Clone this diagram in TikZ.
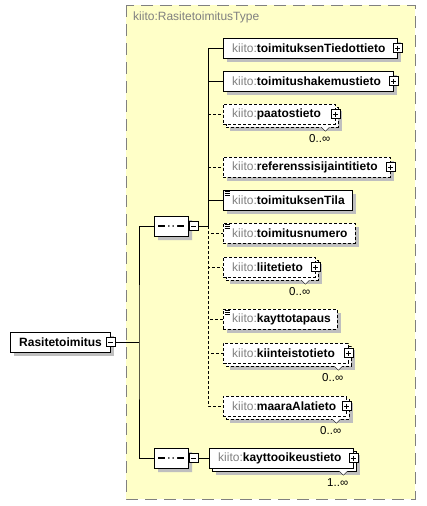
\documentclass[tikz,border=0pt]{standalone}
\usepackage{fontspec}
\setmainfont{Liberation Sans}
\usetikzlibrary{shapes.misc}

\definecolor{typefill}{HTML}{FFFFC8}
\definecolor{prefix}{HTML}{808080}
\colorlet{shadegray}{black!25}
\newcommand{\kiito}{\textcolor{prefix}{\mdseries kiito:}}
\hyphenpenalty=10000

\pgfdeclarelayer{back}
\pgfdeclarelayer{shadow}
\pgfsetlayers{back,shadow,main}

\tikzset{
  elem/.style={draw, fill=white, anchor=west, minimum height=20pt, inner xsep=9pt, inner ysep=0pt,
    text width=#1pt, align=left, font=\bfseries\fontsize{12}{14}\selectfont},
  opt/.style={dash pattern=on 3pt off 2pt},
  many/.style={preaction={draw=black, fill=white, transform canvas={shift={(3pt,-3pt)}}, #1}},
  many/.default={solid},
  simple/.style={path picture={
    \draw[solid, line width=.7pt] ([shift={(1.5pt,-1.5pt)}]path picture bounding box.north west) -- ++(5pt,0pt)
      ++(-5pt,-2pt) -- ++(5pt,0pt) ++(-5pt,-2pt) -- ++(5pt,0pt);}},
  minus/.style={draw, solid, fill=white, minimum size=9pt, inner sep=0pt,
    path picture={\draw[line width=.8pt] ([xshift=2pt]path picture bounding box.west)
      -- ([xshift=-2pt]path picture bounding box.east);}},
  plus/.style={draw, solid, fill=white, minimum size=9pt, inner sep=0pt,
    path picture={\draw[line width=.8pt] ([xshift=2pt]path picture bounding box.west)
      -- ([xshift=-2pt]path picture bounding box.east)
      ([yshift=-2pt]path picture bounding box.north) -- ([yshift=2pt]path picture bounding box.south);}},
  octa/.style={chamfered rectangle, chamfered rectangle xsep=6pt, minimum width=34pt, minimum height=20pt, inner sep=0pt},
  seq/.style={octa, draw, fill=white,
    path picture={
      \draw[line width=1.2pt] ([xshift=-13pt]path picture bounding box.center) -- ([xshift=13pt]path picture bounding box.center);
      \fill ([shift={(-6pt,1.7pt)}]path picture bounding box.center) rectangle ++(3.4pt,-3.4pt)
            ([shift={(-1.7pt,1.7pt)}]path picture bounding box.center) rectangle ++(3.4pt,-3.4pt)
            ([shift={(2.6pt,1.7pt)}]path picture bounding box.center) rectangle ++(3.4pt,-3.4pt);}},
  mult/.style={anchor=north east, inner sep=0pt, font=\fontsize{11.5}{13}\selectfont}
}

\begin{document}
\begin{tikzpicture}[x=1pt, y=-1pt, line width=1pt]
\useasboundingbox (0,0) rectangle (426,506);
% complex type
\begin{pgfonlayer}{back}
\draw[fill=typefill, draw=prefix, dash pattern=on 12pt off 7pt] (126,5) rectangle (415,499);
\end{pgfonlayer}
\node[anchor=west, inner sep=0pt, text=prefix, font=\fontsize{12}{14}\selectfont] (tname) at (133,17) {kiito:RasitetoimitusType};

% root element
\node[elem=82] (ra) at (10,342) {Rasitetoimitus};
\node[minus] (ram) at (ra.east) {};
\coordinate (j1) at (139,342);

% sequences
\node[seq] (s1) at (171,226) {};
\node[minus, anchor=west] (s1m) at ([xshift=1pt]s1.east) {};
\node[seq] (s2) at (171,458) {};
\node[minus, anchor=west] (s2m) at ([xshift=1pt]s2.east) {};
\coordinate (j2) at (208,226);

% children of the first sequence
\node[elem=156] (c1) at (223,48) {\kiito toimituksenTiedottieto};
\node[plus] (c1p) at (c1.east) {};
\node[elem=152] (c2) at (223,81) {\kiito toimitushakemustieto};
\node[plus] (c2p) at (c2.east) {};
\node[elem=94, opt, many=opt] (c3) at (223,114) {\kiito paatostieto};
\node[plus] (c3p) at (c3.east) {};
\node[elem=149, opt] (c4) at (223,167) {\kiito referenssisijaintitieto};
\node[plus] (c4p) at (c4.east) {};
\node[elem=111, simple] (c5) at (223,200) {\kiito toimituksenTila};
\node[elem=114, opt, simple] (c6) at (223,233) {\kiito toimitusnumero};
\node[elem=74, opt, many=opt] (c7) at (223,267) {\kiito liitetieto};
\node[plus] (c7p) at (c7.east) {};
\node[elem=96, opt, simple] (c8) at (223,319) {\kiito kayttotapaus};
\node[elem=107, opt, many=opt] (c9) at (223,353) {\kiito kiinteistotieto};
\node[plus] (c9p) at (c9.east) {};
\node[elem=105, opt, many=opt] (c10) at (223,406) {\kiito maaraAlatieto};
\node[plus] (c10p) at (c10.east) {};

% child of the second sequence
\node[elem=126, many] (c11) at (209,458) {\kiito kayttooikeustieto};
\node[plus] (c11p) at (c11.east) {};

% shadows
\begin{pgfonlayer}{shadow}
\foreach \n in {ra,c1,c2,c4,c5,c6,c8}
  \fill[shadegray] ([xshift=4pt,yshift=-4pt]\n.north west) rectangle ([xshift=4pt,yshift=-4pt]\n.south east);
\foreach \n in {c3,c7,c9,c10,c11}
  \fill[shadegray] ([xshift=7pt,yshift=-7pt]\n.north west) rectangle ([xshift=7pt,yshift=-7pt]\n.south east);
\node[octa, fill=shadegray] (s1s) at ([xshift=4pt,yshift=-4pt]s1.center) {};
\node[octa, fill=shadegray] (s2s) at ([xshift=4pt,yshift=-4pt]s2.center) {};
\end{pgfonlayer}

% occurrence marks
\draw[fill=white] ([shift={(-14pt,-3pt)}]c3.south east) -- ++(4,4) -- ++(4,-4);
\node[mult] (m3) at ([shift={(-5pt,-10pt)}]c3.south east) {0..∞};
\draw[fill=white] ([shift={(-14pt,-3pt)}]c7.south east) -- ++(4,4) -- ++(4,-4);
\node[mult] (m7) at ([shift={(-5pt,-10pt)}]c7.south east) {0..∞};
\draw[fill=white] ([shift={(-14pt,-3pt)}]c9.south east) -- ++(4,4) -- ++(4,-4);
\node[mult] (m9) at ([shift={(-5pt,-10pt)}]c9.south east) {0..∞};
\draw[fill=white] ([shift={(-14pt,-3pt)}]c10.south east) -- ++(4,4) -- ++(4,-4);
\node[mult] (m10) at ([shift={(-5pt,-10pt)}]c10.south east) {0..∞};
\draw[fill=white] ([shift={(-14pt,-3pt)}]c11.south east) -- ++(4,4) -- ++(4,-4);
\node[mult] (m11) at ([shift={(-5pt,-10pt)}]c11.south east) {1..∞};

% connectors
\draw (ram) -- (j1);
\draw (s1.west) -| (j1) |- (s2.west);
\draw (s1m) -- (j2);
\draw (s2m) -- (c11);
\draw[opt] (j2) |- (c6);
\draw[opt] (j2) |- (c7);
\draw[opt] (j2) |- (c8);
\draw[opt] (j2) |- (c9);
\draw[opt] (j2) |- (c10);
\draw[opt] (c3.west -| j2) -- (c3);
\draw[opt] (c4.west -| j2) -- (c4);
\draw (j2) |- (c1);
\draw (j2) |- (c2);
\draw (j2) |- (c5);
\end{tikzpicture}
\end{document}
